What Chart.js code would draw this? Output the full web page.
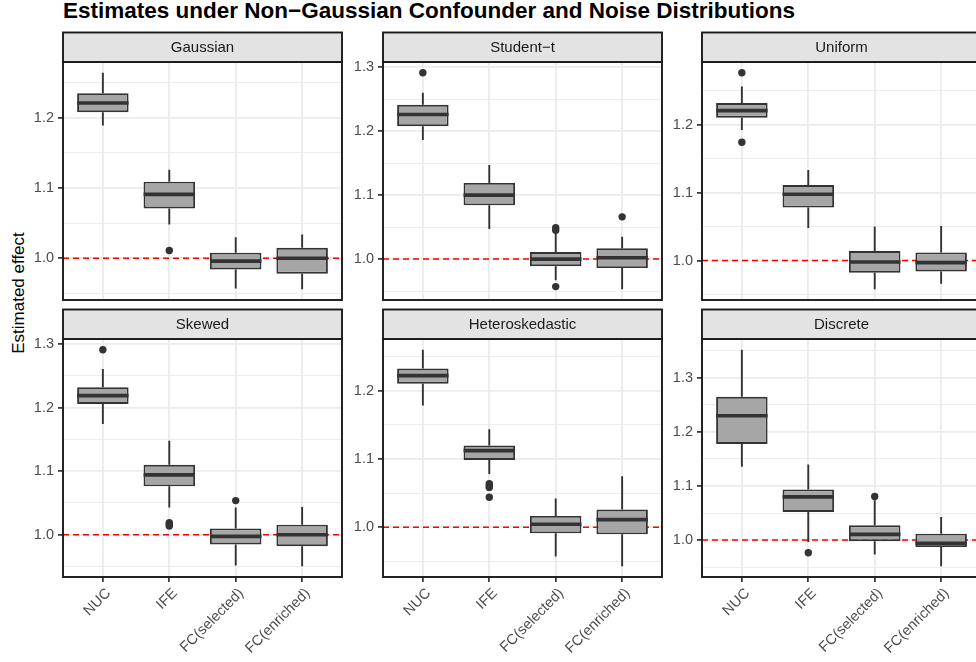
<!DOCTYPE html>
<html>
<head>
<meta charset="utf-8">
<script src="https://cdn.jsdelivr.net/npm/chart.js@4.4.1/dist/chart.umd.min.js"></script>
<style>
  html, body { margin: 0; padding: 0; background: #ffffff; width: 976px; height: 662px; overflow: hidden; position: relative;
    font-family: "Liberation Sans", Arial, Helvetica, sans-serif; }
  canvas { position: absolute; left: 0; top: 0; }
  #title { position: absolute; left: 63px; top: 0px; font-size: 22.5px; line-height: 22px; font-weight: bold; color: #000; white-space: nowrap; }
  #ytitle { position: absolute; left: 18px; top: 293px; font-size: 17px; line-height: 17px; color: #000; white-space: nowrap;
    transform: translate(-50%, -50%) rotate(-90deg); }
</style>
</head>
<body>
<div id="title">Estimates under Non−Gaussian Confounder and Noise Distributions</div>
<div id="ytitle">Estimated effect</div>
<script>
// ---- data -------------------------------------------------------------
const CATEGORIES = ['NUC', 'IFE', 'FC(selected)', 'FC(enriched)'];
const PANEL_TITLES = ['Gaussian', 'Student−t', 'Uniform', 'Skewed', 'Heteroskedastic', 'Discrete'];

// per method: [lower whisker, Q1, median, Q3, upper whisker]
const gaussianStats = [
  [1.189, 1.208, 1.221, 1.235, 1.264],
  [1.048, 1.071, 1.091, 1.109, 1.126],
  [0.957, 0.984, 0.996, 1.008, 1.030],
  [0.956, 0.978, 1.000, 1.015, 1.034]
];
const gaussianOutliers = [[], [1.011], [], []];

const studentStats = [
  [1.186, 1.2075, 1.226, 1.241, 1.260],
  [1.047, 1.084, 1.100, 1.119, 1.147],
  [0.967, 0.989, 1.000, 1.011, 1.040],
  [0.953, 0.986, 1.002, 1.017, 1.035]
];
const studentOutliers = [[1.291], [], [1.049, 1.045, 0.957], [1.066]];

const uniformStats = [
  [1.192, 1.210, 1.2205, 1.2315, 1.256],
  [1.048, 1.078, 1.0975, 1.111, 1.133],
  [0.958, 0.982, 0.998, 1.014, 1.050],
  [0.966, 0.984, 0.997, 1.012, 1.051]
];
const uniformOutliers = [[1.276, 1.174], [], [], []];

const skewedStats = [
  [1.174, 1.2055, 1.2186, 1.232, 1.2607],
  [1.0426, 1.076, 1.094, 1.110, 1.1476],
  [0.9516, 0.9847, 0.9973, 1.0099, 1.0426],
  [0.9505, 0.982, 1.000, 1.0158, 1.0435]
];
const skewedOutliers = [[1.2907], [1.019, 1.016, 1.0136], [1.0536], []];

const heteroStats = [
  [1.1784, 1.2103, 1.222, 1.2324, 1.2598],
  [1.0779, 1.0985, 1.1122, 1.1196, 1.1437],
  [0.9574, 0.9912, 1.0044, 1.0166, 1.0422],
  [0.9431, 0.9897, 1.0113, 1.026, 1.0746]
];
const heteroOutliers = [[], [1.0637, 1.061, 1.0584, 1.0441], [], []];

const discreteStats = [
  [1.1357, 1.1779, 1.2299, 1.2652, 1.352],
  [0.9963, 1.052, 1.0799, 1.0937, 1.140],
  [0.9734, 0.998, 1.0106, 1.0273, 1.0738],
  [0.9517, 0.987, 0.9939, 1.0119, 1.0428]
];
const discreteOutliers = [[], [0.9766], [1.0807], []];

const MAJOR_BREAKS = [1.0, 1.1, 1.2, 1.3];
const MINOR_BREAKS = [0.95, 1.05, 1.15, 1.25, 1.35];
const REF_VALUE = 1.0;

const PANEL_STATS = [gaussianStats, studentStats, uniformStats, skewedStats, heteroStats, discreteStats];
const PANEL_OUTLIERS = [gaussianOutliers, studentOutliers, uniformOutliers, skewedOutliers, heteroOutliers, discreteOutliers];

// ---- layout -----------------------------------------------------------
const CW = 990, CH = 662;
const COL_LEFT = [63, 383, 702];
const PANEL_W = 279;
const ROW_TOP = [62, 339];
const ROW_BOTTOM = [300, 577];
const STRIP_H = 29.5;
const Y_AXIS_W = 50;
const FONT = '"Liberation Sans", Arial, Helvetica, sans-serif';

const INK = '#333333';
const GRID = '#EBEBEB';
const BOX_FILL = '#A6A6A6';

Chart.defaults.font.family = FONT;
Chart.defaults.color = '#4D4D4D';

const isMajor = v => MAJOR_BREAKS.some(b => Math.abs(b - v) < 1e-9);

function makeDecor(p, stats, bottomRow) {
  return {
    id: 'panelDecor' + p,
    beforeDatasetsDraw(chart) {
      const { ctx, chartArea: a, scales: { x, y } } = chart;
      ctx.save();
      ctx.beginPath();
      ctx.rect(a.left, a.top, a.right - a.left, a.bottom - a.top);
      ctx.clip();
      // reference line at the true effect
      const yr = y.getPixelForValue(REF_VALUE);
      ctx.strokeStyle = '#FF0000';
      ctx.lineWidth = 1.5;
      ctx.setLineDash([6, 4]);
      ctx.beginPath();
      ctx.moveTo(a.left, yr);
      ctx.lineTo(a.right, yr);
      ctx.stroke();
      ctx.setLineDash([]);
      // whiskers
      ctx.strokeStyle = INK;
      ctx.lineWidth = 1.9;
      stats.forEach((s, i) => {
        const px = x.getPixelForValue(i);
        ctx.beginPath();
        ctx.moveTo(px, y.getPixelForValue(s[4]));
        ctx.lineTo(px, y.getPixelForValue(s[3]));
        ctx.moveTo(px, y.getPixelForValue(s[1]));
        ctx.lineTo(px, y.getPixelForValue(s[0]));
        ctx.stroke();
      });
      ctx.restore();
    },
    afterDatasetsDraw(chart) {
      const { ctx, chartArea: a, scales: { x, y } } = chart;
      const w = a.right - a.left, h = a.bottom - a.top;
      ctx.save();
      // medians
      const bars = chart.getDatasetMeta(0).data;
      ctx.strokeStyle = INK;
      ctx.lineWidth = 3.6;
      stats.forEach((s, i) => {
        const b = bars[i];
        const ym = y.getPixelForValue(s[2]);
        ctx.beginPath();
        ctx.moveTo(b.x - b.width / 2, ym);
        ctx.lineTo(b.x + b.width / 2, ym);
        ctx.stroke();
      });
      // panel frame
      ctx.strokeStyle = '#1A1A1A';
      ctx.lineWidth = 1.9;
      ctx.strokeRect(a.left, a.top, w, h);
      // facet strip
      ctx.fillStyle = '#E3E3E3';
      ctx.fillRect(a.left, a.top - STRIP_H, w, STRIP_H);
      ctx.strokeRect(a.left, a.top - STRIP_H, w, STRIP_H);
      ctx.fillStyle = '#1A1A1A';
      ctx.font = '15px ' + FONT;
      ctx.textAlign = 'center';
      ctx.textBaseline = 'middle';
      ctx.fillText(PANEL_TITLES[p], a.left + w / 2, a.top - STRIP_H / 2 + 0.5);
      // category labels under the bottom row
      if (bottomRow) {
        ctx.fillStyle = '#4D4D4D';
        ctx.font = '14.5px ' + FONT;
        ctx.textAlign = 'right';
        ctx.textBaseline = 'top';
        CATEGORIES.forEach((c, i) => {
          const px = x.getPixelForValue(i);
          ctx.save();
          ctx.translate(px + 0.5, a.bottom + 9);
          ctx.rotate(-Math.PI / 4);
          ctx.fillText(c, 0, 0);
          ctx.restore();
        });
      }
      ctx.restore();
    }
  };
}

PANEL_STATS.forEach((stats, p) => {
  const col = p % 3, row = Math.floor(p / 3);
  const outliers = PANEL_OUTLIERS[p];
  const left = COL_LEFT[col], right = left + PANEL_W;
  const top = ROW_TOP[row], bottom = ROW_BOTTOM[row];

  const allVals = stats.flat().concat(outliers.flat());
  const lo = Math.min(...allVals), hi = Math.max(...allVals);
  const pad = (hi - lo) * 0.05;
  const yMin = lo - pad, yMax = hi + pad;

  const canvas = document.createElement('canvas');
  canvas.width = CW; canvas.height = CH;
  canvas.style.width = CW + 'px'; canvas.style.height = CH + 'px';
  document.body.appendChild(canvas);

  new Chart(canvas, {
    type: 'bar',
    data: {
      datasets: [
        {
          type: 'bar',
          data: stats.map((s, i) => ({ x: i, y: [s[1], s[3]] })),
          backgroundColor: BOX_FILL,
          borderColor: INK,
          borderWidth: 1.9,
          borderSkipped: false,
          inflateAmount: 0,
          barPercentage: 0.775,
          categoryPercentage: 1
        },
        {
          type: 'scatter',
          data: outliers.flatMap((arr, i) => arr.map(v => ({ x: i, y: v }))),
          pointRadius: 3.7,
          pointBackgroundColor: INK,
          pointBorderWidth: 0,
          showLine: false
        }
      ]
    },
    options: {
      responsive: false,
      animation: false,
      events: [],
      devicePixelRatio: 1,
      layout: { padding: { left: left - Y_AXIS_W, top: top, right: CW - right, bottom: CH - bottom } },
      plugins: { legend: { display: false }, tooltip: { enabled: false }, title: { display: false } },
      scales: {
        x: {
          type: 'linear',
          min: -0.6, max: 3.6,
          offset: false,
          afterBuildTicks: s => { s.ticks = CATEGORIES.map((_, i) => ({ value: i })); },
          afterFit: s => { s.height = 0; },
          ticks: { display: false },
          grid: { offset: false, color: GRID, lineWidth: 1.8, drawTicks: row === 1, tickLength: 5, tickColor: INK, tickWidth: 1.7 },
          border: { display: false }
        },
        y: {
          type: 'linear',
          min: yMin, max: yMax,
          beginAtZero: false,
          afterBuildTicks: s => {
            s.ticks = MAJOR_BREAKS.concat(MINOR_BREAKS)
              .filter(v => v >= yMin && v <= yMax)
              .sort((a, b) => a - b)
              .map(v => ({ value: v }));
          },
          afterFit: s => { s.width = Y_AXIS_W; },
          ticks: {
            autoSkip: false,
            padding: 4,
            color: '#4D4D4D',
            font: { size: 14.5 },
            callback: v => isMajor(v) ? v.toFixed(1) : ''
          },
          grid: {
            color: GRID,
            lineWidth: c => (c.tick && isMajor(c.tick.value)) ? 1.8 : 0.9,
            tickLength: 5,
            tickColor: c => (c.tick && isMajor(c.tick.value)) ? INK : 'rgba(0,0,0,0)',
            tickWidth: 1.7
          },
          border: { display: false }
        }
      }
    },
    plugins: [makeDecor(p, stats, row === 1)]
  });
});
</script>
</body>
</html>
